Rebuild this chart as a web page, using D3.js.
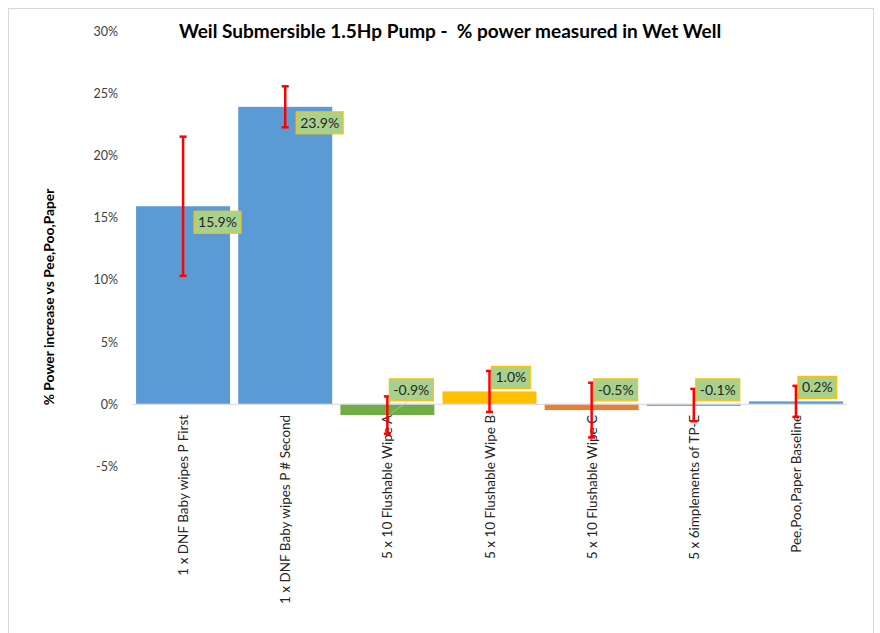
<!DOCTYPE html>
<html lang="en">
<head>
    <meta charset="UTF-8">
    <title>Weil Submersible Pump</title>
    <script src="https://d3js.org/d3.v7.min.js"></script>
    <style>
        body { margin: 0; background: #fff; }
        text { white-space: pre; }
    </style>
</head>
<body>

<script>
    var categories = [
        "1 x DNF Baby wipes P First",
        "1 x DNF Baby wipes P # Second",
        "5 x 10 Flushable Wipe A",
        "5 x 10 Flushable Wipe B",
        "5 x 10 Flushable Wipe C",
        "5 x 6implements of TP-E",
        "Pee,Poo,Paper Baseline"
    ];
    var values = [15.9, 23.9, -0.9, 1.0, -0.5, -0.1, 0.2];
    var errors = [5.6, 1.65, 1.5, 1.65, 2.2, 1.3, 1.25];
    var colors = ["#5b9bd5", "#5b9bd5", "#70ad47", "#ffc000", "#ed7d31", "#5b9bd5", "#5b9bd5"];
    var yTicks = [-5, 0, 5, 10, 15, 20, 25, 30];

    var width = 880, height = 633;
    var calibri = "Lato, 'Open Sans', sans-serif";

    var svg = d3.select("body")
        .append("svg")
        .attr("width", width)
        .attr("height", height);

    // chart border
    svg.append("rect")
        .attr("x", 8.5).attr("y", 8.5)
        .attr("width", 865).attr("height", 640)
        .attr("fill", "none")
        .attr("stroke", "#d9d9d9");

    var x = d3.scaleBand()
        .domain(categories)
        .range([132, 847])
        .paddingInner(0.08)
        .paddingOuter(0.04);

    var y = d3.scaleLinear()
        .domain([-5, 30])
        .range([466, 31]);

    // y axis labels, no line
    var yAxis = d3.axisLeft(y)
        .tickValues(yTicks)
        .tickSize(0)
        .tickPadding(0)
        .tickFormat(function (d) { return d + "%"; });

    var ya = svg.append("g")
        .attr("transform", "translate(118,0)")
        .call(yAxis);
    ya.select(".domain").remove();
    ya.selectAll("text")
        .attr("font-family", calibri)
        .attr("font-size", "12.5px")
        .attr("fill", "#404040")
        .attr("dy", "0.35em");

    // bars
    svg.selectAll(".bar")
        .data(values)
        .enter()
        .append("rect")
        .attr("class", "bar")
        .attr("x", function (d, i) { return x(categories[i]); })
        .attr("width", x.bandwidth())
        .attr("y", function (d) { return y(Math.max(d, 0)); })
        .attr("height", function (d) { return Math.max(Math.abs(y(d) - y(0)), 2); })
        .attr("fill", function (d, i) { return colors[i]; });

    // zero line
    svg.append("line")
        .attr("x1", 132).attr("x2", 847)
        .attr("y1", y(0) + 0.5).attr("y2", y(0) + 0.5)
        .attr("stroke", "#d9d9d9")
        .attr("stroke-width", 1);

    // category labels
    svg.selectAll(".cat")
        .data(categories)
        .enter()
        .append("text")
        .attr("class", "cat")
        .attr("transform", function (d) {
            return "translate(" + (x(d) + x.bandwidth() / 2 + 5) + "," + (y(0) + 11) + ") rotate(-90)";
        })
        .attr("text-anchor", "end")
        .attr("font-family", calibri)
        .attr("font-size", "13.5px")
        .attr("fill", "#262626")
        .text(function (d) { return d; });

    // error bars
    var eb = svg.selectAll(".err")
        .data(values)
        .enter()
        .append("g")
        .attr("class", "err")
        .attr("stroke", "#ff0000")
        .attr("stroke-width", 2.5);

    eb.append("line")
        .attr("x1", function (d, i) { return x(categories[i]) + x.bandwidth() / 2; })
        .attr("x2", function (d, i) { return x(categories[i]) + x.bandwidth() / 2; })
        .attr("y1", function (d, i) { return y(d + errors[i]); })
        .attr("y2", function (d, i) { return y(d - errors[i]); });
    [1, -1].forEach(function (s) {
        eb.append("line")
            .attr("x1", function (d, i) { return x(categories[i]) + x.bandwidth() / 2 - 3.5; })
            .attr("x2", function (d, i) { return x(categories[i]) + x.bandwidth() / 2 + 3.5; })
            .attr("y1", function (d, i) { return y(d + s * errors[i]); })
            .attr("y2", function (d, i) { return y(d + s * errors[i]); });
    });

    // data labels
    function labelX(d, i) {
        return x(categories[i]) + x.bandwidth() / 2 + (d > 5 ? 11 : 2);
    }
    function labelY(d) {
        return d > 5 ? y(d) + 5 : y(Math.max(d, 0)) - 25;
    }

    var lab = svg.selectAll(".lab")
        .data(values)
        .enter()
        .append("g")
        .attr("class", "lab")
        .attr("transform", function (d, i) {
            return "translate(" + labelX(d, i) + "," + labelY(d) + ")";
        });

    // leader line for the A label
    svg.append("line")
        .attr("x1", labelX(values[2], 2) + 18).attr("y1", labelY(values[2]) + 23)
        .attr("x2", labelX(values[2], 2) + 2).attr("y2", y(values[2]) - 2)
        .attr("stroke", "#bfbfbf")
        .attr("stroke-width", 0.8);

    lab.append("text")
        .attr("x", 4)
        .attr("y", 11)
        .attr("dy", "0.35em")
        .attr("font-family", calibri)
        .attr("font-size", "14px")
        .attr("fill", "#262626")
        .text(function (d) { return d.toFixed(1) + "%"; })
        .each(function () {
            var w = this.getComputedTextLength();
            d3.select(this.parentNode).insert("rect", "text")
                .attr("width", w + 8)
                .attr("height", 22)
                .attr("fill", "#a9d18e")
                .attr("stroke", "#ffc000")
                .attr("stroke-width", 1.2);
        });

    // titles
    svg.append("text")
        .attr("x", 450)
        .attr("y", 38)
        .attr("text-anchor", "middle")
        .attr("font-family", calibri)
        .attr("font-weight", "bold")
        .attr("font-size", "19px")
        .attr("fill", "#000")
        .text("Weil Submersible 1.5Hp Pump -  % power measured in Wet Well");

    svg.append("text")
        .attr("transform", "translate(54,297) rotate(-90)")
        .attr("text-anchor", "middle")
        .attr("font-family", calibri)
        .attr("font-weight", "bold")
        .attr("font-size", "13.8px")
        .attr("fill", "#000")
        .text("% Power increase vs Pee,Poo,Paper");
</script>
</body>
</html>
